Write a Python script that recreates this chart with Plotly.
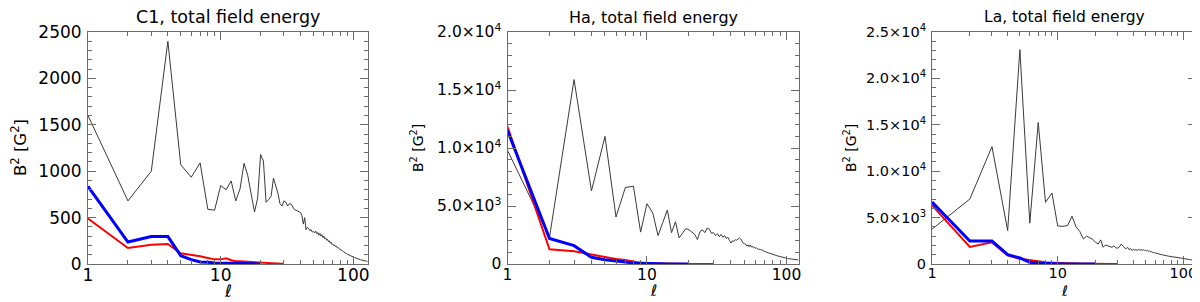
import plotly.graph_objects as go
import math

# ---------------- data ----------------
c1_total = [1600, 680, 1000, 2400, 1070, 935, 1090, 590, 580, 845, 800, 895, 680, 810, 1085, 955, 750, 560, 710, 1180,
            1110, 665, 695, 730, 925, 840, 765, 650, 625, 680, 665, 625, 650, 645, 605, 585, 580, 570, 560, 555,
            520, 430, 500, 370, 395, 385, 360, 370, 345, 350, 335, 355, 325, 340, 310, 330, 300, 315, 285, 300,
            270, 280, 255, 265, 240, 250, 225, 235, 210, 215, 200, 205, 190, 195, 180, 182, 172, 168, 160, 155,
            150, 145, 140, 135, 128, 125, 120, 115, 110, 106, 102, 98, 95, 92, 88, 85, 82, 80, 77, 74,
            72, 70, 67, 65, 62, 60, 58, 56, 54, 52, 50, 48, 46, 45, 43, 42, 40, 39, 37, 36,
            35, 34, 33, 32, 31, 30, 29, 28]
c1_red = [489, 172, 208, 215, 115, 100, 83, 65, 50, 50, 61, 40, 29, 29, 27, 22, 22, 20, 22, 20,
          17, 14, 12, 10, 8, 6, 5, 3, 2, 1]
c1_blue = [837, 237, 295, 295, 90, 47, 22, 20, 10, 8, 6, 5, 4, 3, 3, 2, 2, 2, 1, 1]

ha_total = [9800, 2300, 15900, 6300, 11000, 4050, 6600, 6700, 2750, 5200, 4400, 2450, 3600, 4650, 2700, 3650, 2250, 2650, 3050, 2950,
            2700, 2550, 2100, 2800, 2950, 2700, 3100, 3000, 2650, 2700, 2450, 2600, 2350, 2550, 2300, 2450, 2200, 2300, 2050, 1800,
            2000, 1950, 2100, 2050, 2150, 2250, 2150, 1900, 1800, 1750, 1700, 1550, 1650, 1500, 1650, 1450, 1550, 1400, 1450, 1350,
            1400, 1300, 1250, 1300, 1200, 1250, 1150, 1150, 1080, 1100, 1050, 1000, 1020, 960, 950, 920, 900, 880, 850, 830,
            800, 780, 760, 740, 720, 700, 690, 670, 650, 630, 615, 600, 585, 570, 555, 540, 530, 515, 505, 495,
            485, 475, 465, 455, 445, 440, 430, 425, 418, 410, 405, 398, 392, 386, 380, 375, 370, 365, 360, 355,
            350, 345]
ha_red = [11850, 1270, 1090, 800, 600, 430, 345, 200, 90, 60, 45, 35, 30, 25, 20, 18, 15, 12, 10, 9,
          8, 7, 6, 5, 4, 3, 3, 2, 2, 1]
ha_blue = [11500, 2200, 1580, 575, 375, 290, 170, 90, 60, 40, 25, 18, 12, 10, 8, 6, 5, 4, 3, 2]

la_total = [3750, 7000, 12650, 3600, 23100, 4400, 15250, 6650, 7650, 4100, 4050, 4150, 5150, 4000, 3500, 2700, 3000, 2800, 2650, 2350,
            2150, 2600, 1800, 2050, 1950, 1900, 1800, 1950, 1750, 1700, 1850, 2150, 1900, 1750, 1650, 1800, 1550, 1650, 1450, 1600,
            1500, 1550, 1450, 1600, 1500, 1550, 1450, 1550, 1450, 1500, 1400, 1480, 1350, 1400, 1300, 1320, 1250, 1260, 1200, 1190,
            1150, 1130, 1100, 1080, 1050, 1030, 1000, 990, 960, 950, 930, 910, 890, 880, 860, 850, 840, 825, 810, 800,
            790, 775, 760, 750, 740, 730, 720, 710, 700, 690, 680, 670, 660, 655, 648, 640, 630, 620, 610, 600,
            590, 580, 570, 560, 550, 540, 530, 520, 510, 500, 490, 480, 470, 460, 450, 440, 430, 420, 410, 400,
            390, 380, 370, 360, 350, 340]
la_red = [6320, 1830, 2330, 930, 575, 395, 250, 180, 145, 110, 80, 60, 45, 35, 28, 22, 18, 15, 12, 10,
          8, 7, 6, 5, 4, 3, 3, 2, 2, 1]
la_blue = [6680, 2480, 2480, 1000, 650, 180, 75, 40, 25, 15, 10, 8, 6, 5, 4, 3, 3, 2, 2, 1]

titles = ["C1, total field energy", "Ha, total field energy", "La, total field energy"]
y_maxes = [2500, 20000, 25000]
x_maxes = [129, 122, 126]
y_major = [[0, 500, 1000, 1500, 2000, 2500],
           [0, 5000, 10000, 15000, 20000],
           [0, 5000, 10000, 15000, 20000, 25000]]
y_major_text = [["0", "500", "1000", "1500", "2000", "2500"],
                ["0", "5.0×10<sup>3</sup>", "1.0×10<sup>4</sup>", "1.5×10<sup>4</sup>", "2.0×10<sup>4</sup>"],
                ["0", "5.0×10<sup>3</sup>", "1.0×10<sup>4</sup>", "1.5×10<sup>4</sup>", "2.0×10<sup>4</sup>", "2.5×10<sup>4</sup>"]]
y_minor_step = [100, 1000, 1000]
x_major = [1, 10, 100]
x_major_text = ["1", "10", "100"]
x_minor = [2, 3, 4, 5, 6, 7, 8, 9, 20, 30, 40, 50, 60, 70, 80, 90]

totals = [c1_total, ha_total, la_total]
reds = [c1_red, ha_red, la_red]
blues = [c1_blue, ha_blue, la_blue]

# ---------------- layout geometry (page pixels; page body has an 8px margin) ----------------
OFF = 8
W, H = 1200 - OFF, 302 - OFF
px_left = [88, 507.5, 932]
px_right = [368, 798.5, 1196]
px_top = 32
px_bottom = 264
tick_fs = [17, 15.5, 14.5]
title_fs = [17.5, 16, 15.5]
ytitle_fs = [16.5, 14, 14]
ytitle_x = [19, 417, 850]


def fx(p):
    return (p - OFF) / W


def fy(p):
    return 1 - (p - OFF) / H


FONT = "DejaVu Sans"
AX = "#6b6b6b"

fig = go.Figure()
annotations = []
for i in range(3):
    xa = "x" if i == 0 else f"x{i+1}"
    ya = "y" if i == 0 else f"y{i+1}"
    lt = list(range(1, len(totals[i]) + 1))
    fig.add_trace(go.Scatter(x=lt, y=totals[i], mode="lines",
                             line=dict(color="#3a3a3a", width=1), xaxis=xa, yaxis=ya, showlegend=False))
    lr = list(range(1, len(reds[i]) + 1))
    fig.add_trace(go.Scatter(x=lr, y=reds[i], mode="lines",
                             line=dict(color="#ff0000", width=2), xaxis=xa, yaxis=ya, showlegend=False))
    lb = list(range(1, len(blues[i]) + 1))
    fig.add_trace(go.Scatter(x=lb, y=blues[i], mode="lines",
                             line=dict(color="#0000ff", width=3), xaxis=xa, yaxis=ya, showlegend=False))

    xdom = [fx(px_left[i]), fx(px_right[i])]
    ydom = [fy(px_bottom), fy(px_top)]
    yminor = list(range(0, y_maxes[i] + 1, y_minor_step[i]))
    xkey = "xaxis" if i == 0 else f"xaxis{i+1}"
    ykey = "yaxis" if i == 0 else f"yaxis{i+1}"
    fig.update_layout({
        xkey: dict(domain=xdom, type="log", range=[0, math.log10(x_maxes[i])], anchor=ya,
                   automargin=False, ticklabeloverflow="allow",
                   showline=True, linecolor=AX, linewidth=1, mirror="ticks",
                   ticks="inside", ticklen=8, tickcolor=AX, tickwidth=1,
                   tickmode="array", tickvals=x_major, ticktext=x_major_text,
                   ticklabelstandoff=-4,
                   minor=dict(tickmode="array", tickvals=x_minor, ticks="inside", ticklen=4,
                              tickcolor=AX, tickwidth=1, showgrid=False),
                   showgrid=False, zeroline=False,
                   tickfont=dict(family=FONT, size=tick_fs[i], color="black")),
        ykey: dict(domain=ydom, range=[0, y_maxes[i]], anchor=xa,
                   automargin=False, ticklabeloverflow="allow",
                   showline=True, linecolor=AX, linewidth=1, mirror="ticks",
                   ticks="inside", ticklen=8, tickcolor=AX, tickwidth=1,
                   tickmode="array", tickvals=y_major[i], ticktext=y_major_text[i],
                   ticklabelstandoff=2,
                   minor=dict(tickmode="array", tickvals=yminor, ticks="inside", ticklen=4,
                              tickcolor=AX, tickwidth=1, showgrid=False),
                   showgrid=False, zeroline=False,
                   tickfont=dict(family=FONT, size=tick_fs[i], color="black")),
    })
    cx = fx((px_left[i] + px_right[i]) / 2)
    annotations.append(dict(text=titles[i], x=cx, y=fy(17), xref="paper", yref="paper",
                            showarrow=False, xanchor="center", yanchor="middle",
                            font=dict(family=FONT, size=title_fs[i], color="black")))
    annotations.append(dict(text="<i>ℓ</i>", x=cx, y=fy(291), xref="paper", yref="paper",
                            showarrow=False, xanchor="center", yanchor="middle",
                            font=dict(family=FONT, size=tick_fs[i], color="black")))
    annotations.append(dict(text="B<sup>2</sup> [G<sup>2</sup>]", x=fx(ytitle_x[i]),
                            y=fy((px_top + px_bottom) / 2), xref="paper", yref="paper",
                            showarrow=False, xanchor="center", yanchor="middle", textangle=-90,
                            font=dict(family=FONT, size=ytitle_fs[i], color="black")))

fig.update_layout(width=W, height=H, margin=dict(l=0, r=0, t=0, b=0, autoexpand=False),
                  paper_bgcolor="white", plot_bgcolor="white",
                  annotations=annotations, font=dict(family=FONT))
fig.write_html("out.html")
